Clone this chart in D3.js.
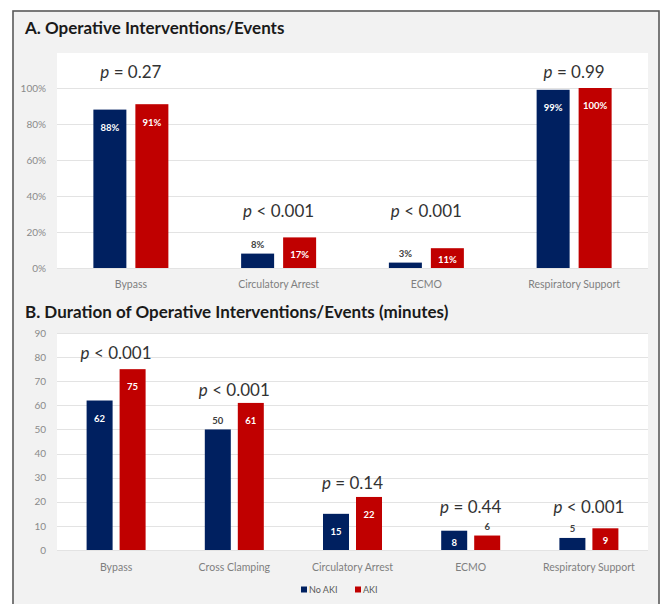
<!DOCTYPE html>
<html>
<head>
<meta charset="utf-8">
<script src="https://cdn.jsdelivr.net/npm/d3@7"></script>
<style>
  html, body { margin: 0; padding: 0; background: #fff; }
  svg { display: block; font-family: Lato, "Open Sans", sans-serif; }
</style>
</head>
<body>
<svg id="chart" width="664" height="604"></svg>
<script>
// ---- Data ----
const series = ["No AKI", "AKI"];
const seriesColors = ["#002060", "#c00000"];

// Panel A: share of patients with each intervention/event
const catsA = ["Bypass", "Circulatory Arrest", "ECMO", "Respiratory Support"];
const noAkiA = [0.88, 0.08, 0.03, 0.99];
const akiA = [0.91, 0.17, 0.11, 1.00];
const pTextA = ["= 0.27", "< 0.001", "< 0.001", "= 0.99"];
const pLevelA = [1.09, 0.317, 0.317, 1.09];
const ticksA = [0, 0.2, 0.4, 0.6, 0.8, 1.0];

// Panel B: duration in minutes
const catsB = ["Bypass", "Cross Clamping", "Circulatory Arrest", "ECMO", "Respiratory Support"];
const noAkiB = [62, 50, 15, 8, 5];
const akiB = [75, 61, 22, 6, 9];
const pTextB = ["< 0.001", "< 0.001", "= 0.14", "= 0.44", "< 0.001"];
const pLevelB = [81.7, 66.4, 27.8, 17.8, 17.8];
const ticksB = [0, 10, 20, 30, 40, 50, 60, 70, 80, 90];

// Labels that sit above their bar instead of inside it
const outsideA = new Set(["Circulatory Arrest|No AKI", "ECMO|No AKI"]);
const outsideB = new Set(["Cross Clamping|No AKI", "ECMO|AKI", "Respiratory Support|No AKI"]);

const svg = d3.select("#chart");

// Frame
svg.append("rect").attr("x", 13).attr("y", 11).attr("width", 646).attr("height", 600)
  .attr("fill", "#f2f2f2").attr("stroke", "#5a5a5a").attr("stroke-width", 1.6);

function panel(opts) {
  const { cats, a, b, pText, pLevel, ticks, fmt, left, right, top, y0, y1, domain,
          groupFrac, barFrac, outside, catY, title, titleY } = opts;

  svg.append("text").attr("x", 25).attr("y", titleY)
    .attr("font-size", 17).attr("font-weight", 700).attr("fill", "#1a1a1a")
    .text(title);

  svg.append("rect").attr("x", left).attr("y", top)
    .attr("width", right - left).attr("height", y0 - top).attr("fill", "#fff");

  const y = d3.scaleLinear().domain(domain).range([y0, y1]);
  const x0 = d3.scaleBand().domain(cats).range([left, right]);
  const x1 = d3.scaleBand().domain(series)
    .range([x0.bandwidth() * (1 - groupFrac) / 2, x0.bandwidth() * (1 + groupFrac) / 2])
    .paddingInner(1 - barFrac);

  // gridlines
  svg.append("g").selectAll("line").data(ticks).join("line")
    .attr("x1", left).attr("x2", right)
    .attr("y1", d => Math.round(y(d)) + 0.5).attr("y2", d => Math.round(y(d)) + 0.5)
    .attr("stroke", "#e3e3e3").attr("stroke-width", 1);

  // y axis labels
  const ax = svg.append("g").attr("transform", `translate(${left - 11},0)`)
    .call(d3.axisLeft(y).tickValues(ticks).tickFormat(fmt).tickSize(0).tickPadding(0));
  ax.select(".domain").remove();
  ax.selectAll("text").attr("font-size", 10).attr("fill", "#8a8a8a")
    .attr("font-family", "Lato, sans-serif");

  // category labels
  const bx = svg.append("g").attr("transform", `translate(0,${catY})`)
    .call(d3.axisBottom(x0).tickSize(0).tickPadding(0));
  bx.select(".domain").remove();
  bx.selectAll("text").attr("font-size", 10.5).attr("fill", "#7f7f7f")
    .attr("font-family", "Lato, sans-serif").attr("dy", "0.35em");

  const rows = [];
  cats.forEach((c, i) => {
    rows.push({ cat: c, s: series[0], v: a[i], color: seriesColors[0] });
    rows.push({ cat: c, s: series[1], v: b[i], color: seriesColors[1] });
  });

  const g = svg.append("g");
  g.selectAll("rect").data(rows).join("rect")
    .attr("x", d => x0(d.cat) + x1(d.s))
    .attr("y", d => y(d.v))
    .attr("width", x1.bandwidth())
    .attr("height", d => y0 - y(d.v))
    .attr("fill", d => d.color);

  g.selectAll("text.val").data(rows).join("text").attr("class", "val")
    .attr("x", d => x0(d.cat) + x1(d.s) + x1.bandwidth() / 2)
    .attr("y", d => {
      const t = y(d.v);
      if (outside.has(d.cat + "|" + d.s)) return t - 9;
      return Math.min(t + 18, (t + y0) / 2 + 2);
    })
    .attr("dy", "0.35em")
    .attr("text-anchor", "middle")
    .attr("font-size", 9.5).attr("font-weight", 700)
    .attr("fill", d => outside.has(d.cat + "|" + d.s) ? "#404040" : "#fff")
    .text(d => fmt(d.v));

  // p-values
  const pt = svg.append("g").selectAll("text").data(cats).join("text")
    .attr("x", c => x0(c) + x0.bandwidth() / 2)
    .attr("y", (c, i) => y(pLevel[i]))
    .attr("dy", "0.35em")
    .attr("text-anchor", "middle")
    .attr("font-size", 17).attr("fill", "#333");
  pt.append("tspan").attr("font-style", "italic").text("p");
  pt.append("tspan").text((c, i) => " " + pText[i]);
}

panel({
  title: "A. Operative Interventions/Events", titleY: 34,
  cats: catsA, a: noAkiA, b: akiA, pText: pTextA, pLevel: pLevelA,
  ticks: ticksA, fmt: d3.format(".0%"), domain: [0, 1],
  left: 57, right: 648, top: 53, y0: 268, y1: 88,
  groupFrac: 75 / 147.75, barFrac: 33 / 42, outside: outsideA, catY: 284
});

panel({
  title: "B. Duration of Operative Interventions/Events (minutes)", titleY: 318,
  cats: catsB, a: noAkiB, b: akiB, pText: pTextB, pLevel: pLevelB,
  ticks: ticksB, fmt: d3.format("d"), domain: [0, 90],
  left: 57, right: 648, top: 333, y0: 550, y1: 333,
  groupFrac: 59 / 118.2, barFrac: 26 / 33, outside: outsideB, catY: 567
});

// Legend
const legend = svg.append("g").attr("transform", "translate(301,590)");
const lx = [0, 54];
series.forEach((s, i) => {
  legend.append("rect").attr("x", lx[i]).attr("y", -3.5).attr("width", 6).attr("height", 6)
    .attr("fill", seriesColors[i]);
  legend.append("text").attr("x", lx[i] + 8).attr("y", 0).attr("dy", "0.35em")
    .attr("font-size", 9).attr("fill", "#595959").text(s);
});
</script>
</body>
</html>
